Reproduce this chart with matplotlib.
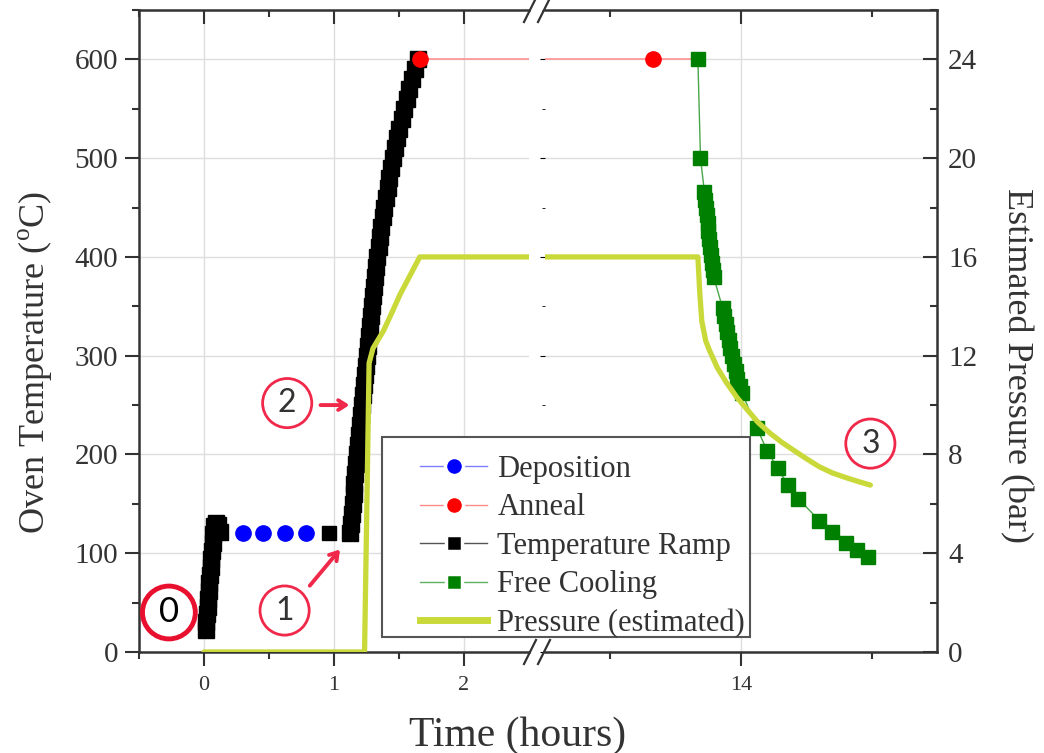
import numpy as np
import matplotlib.pyplot as plt
from matplotlib.lines import Line2D
from matplotlib.patches import Rectangle

plt.rcParams['font.family'] = ['Liberation Serif', 'DejaVu Serif']
plt.rcParams['mathtext.fontset'] = 'custom'
plt.rcParams['mathtext.rm'] = 'Liberation Serif'

# ---- data (time in hours, temperature in C, pressure in bar) ----
ramp_a_x = [0.012, 0.017, 0.022, 0.027, 0.032, 0.037, 0.042, 0.047, 0.052, 0.057, 0.062, 0.067, 0.072, 0.077,
            0.090, 0.105, 0.125]
ramp_a_y = [22, 30, 38, 46, 54, 62, 70, 78, 86, 94, 102, 110, 119, 128,
            131, 129, 121]

ramp_mid_x = [0.96]
ramp_mid_y = [120]

ramp_b_x = [1.123, 1.130, 1.137, 1.143, 1.150, 1.157, 1.163, 1.170, 1.177, 1.185,
            1.192, 1.200, 1.208, 1.215, 1.223, 1.231, 1.238, 1.246, 1.254, 1.262,
            1.269, 1.277, 1.285, 1.292, 1.300, 1.308, 1.315, 1.323, 1.333, 1.343,
            1.354, 1.365, 1.376, 1.388, 1.400, 1.412, 1.425, 1.439, 1.454, 1.469,
            1.485, 1.502, 1.520, 1.538, 1.558, 1.578, 1.598, 1.622, 1.646]
ramp_b_y = [120, 130, 140, 150, 160, 170, 180, 190, 200, 210,
            220, 230, 240, 250, 260, 270, 280, 290, 300, 310,
            320, 330, 340, 350, 360, 370, 380, 390, 400, 410,
            420, 430, 440, 450, 460, 470, 480, 490, 500, 510,
            520, 530, 540, 550, 560, 570, 580, 590, 600]

dep_x = [0.30, 0.455, 0.62, 0.785]
dep_y = [120, 120, 120, 120]

anneal_x = [1.66, 13.33, 13.67]
anneal_y = [600, 600, 600]

cool_x = [13.67, 13.69,
          13.72, 13.726, 13.732, 13.738, 13.744, 13.75, 13.756, 13.762, 13.769, 13.776, 13.783, 13.79,
          13.86, 13.871, 13.882, 13.893, 13.905, 13.917, 13.93, 13.944, 13.958, 13.973, 13.99, 14.01,
          14.12, 14.20, 14.28, 14.36, 14.44, 14.60, 14.70, 14.80, 14.89, 14.97]
cool_y = [600, 500,
          466, 458, 450, 442, 434, 426, 418, 410, 402, 394, 387, 380,
          348, 340, 332, 324, 316, 308, 300, 292, 284, 276, 269, 262,
          227, 204, 186, 169, 155, 133, 121, 110, 103, 96]

press_x = [0.0, 1.235, 1.27, 1.30, 1.38, 1.45, 1.51, 1.58, 1.66,
           13.67, 13.685, 13.70, 13.73, 13.76, 13.82, 13.89, 13.97, 14.05, 14.13,
           14.22, 14.31, 14.40, 14.50, 14.60, 14.70, 14.81, 14.90, 14.99]
press_y = [0.0, 0.0, 11.7, 12.3, 13.0, 13.8, 14.5, 15.2, 16.0,
           16.0, 14.5, 13.4, 12.6, 12.2, 11.5, 10.9, 10.3, 9.8, 9.3,
           8.87, 8.5, 8.18, 7.83, 7.5, 7.25, 7.05, 6.9, 6.76]

PRESS_COL = '#cad93a'
DARK = '#333333'
RED = '#f0284a'
SQ = 11.5

W, H = 1044, 753
fig = plt.figure(figsize=(W / 100, H / 100), dpi=100)

def box(x0, x1, y0, y1):
    return [x0 / W, 1 - y1 / H, (x1 - x0) / W, (y1 - y0) / H]

ax1 = fig.add_axes(box(139, 529, 10, 652))
ax2 = fig.add_axes(box(545, 937, 10, 652))

for ax, xlim in [(ax1, (-0.5, 2.5)), (ax2, (12.5, 15.5))]:
    ax.set_xlim(*xlim)
    ax.set_ylim(0, 650)
    ax.set_yticks(np.arange(0, 601, 100))
    ax.set_yticks(np.arange(50, 651, 100), minor=True)
    ax.grid(which='major', color='#dedede', lw=1.0)
    ax.set_axisbelow(True)
    # temperature series
    ax.plot(dep_x, dep_y, ls='none', marker='o', ms=11, color='blue')
    ax.plot(ramp_a_x, ramp_a_y, color='black', lw=0.8, marker='s', ms=SQ)
    ax.plot(ramp_mid_x, ramp_mid_y, color='black', lw=0.8, marker='s', ms=10.5)
    ax.plot(ramp_b_x, ramp_b_y, color='black', lw=0.8, marker='s', ms=SQ)
    ax.plot(anneal_x, anneal_y, color='#ff8a8a', lw=1.1, marker='o', ms=11, mfc='red', mec='red', markevery=[0, 1])
    ax.plot(cool_x, cool_y, color='#4aa64a', lw=1.0, marker='s', ms=10.5, mfc='#008000', mec='#008000')

ax1.set_xticks([0, 1, 2])
ax1.set_xticks([-0.5, 0.5, 1.5], minor=True)
ax2.set_xticks([14])
ax2.set_xticks([13, 15], minor=True)

ax1.spines['right'].set_visible(False)
ax2.spines['left'].set_visible(False)
for ax in (ax1, ax2):
    for s in ax.spines.values():
        s.set_color(DARK)
        s.set_linewidth(1.8)
    ax.tick_params(axis='x', which='both', bottom=True, top=False, direction='out',
                   width=1.5, color=DARK, labelsize=16, labelcolor=DARK, pad=7)
    ax.tick_params(axis='x', which='major', length=10)
    ax.tick_params(axis='x', which='minor', length=5)
ax1.tick_params(axis='y', which='both', left=True, right=False, direction='out',
                width=1.5, color=DARK, labelsize=21, labelcolor=DARK, pad=5)
ax1.tick_params(axis='y', which='major', length=10)
ax1.tick_params(axis='y', which='minor', length=5)
ax2.tick_params(axis='y', which='both', left=False, right=False, labelleft=False, labelright=False)

# pressure on twin axes
p1 = ax1.twinx()
p2 = ax2.twinx()
for p in (p1, p2):
    p.set_ylim(0, 26)
    p.plot(press_x, press_y, color=PRESS_COL, lw=3.8, solid_capstyle='round', solid_joinstyle='round')
    for s in p.spines.values():
        s.set_visible(False)
    p.xaxis.set_visible(True)
    p.tick_params(axis='x', which='both', top=True, bottom=False, labeltop=False, labelbottom=False,
                  direction='in', width=1.5, color=DARK)
    p.tick_params(axis='x', which='major', length=10)
    p.tick_params(axis='x', which='minor', length=5)
p1.tick_params(axis='y', which='both', left=False, right=False, labelleft=False, labelright=False)
p2.set_yticks(np.arange(0, 25, 4))
p2.set_yticks(np.arange(2, 27, 4), minor=True)
p2.tick_params(axis='y', which='both', left=False, right=True, labelleft=False, labelright=True,
               direction='in', width=1.5, color=DARK, labelsize=21, labelcolor=DARK, pad=8)
p2.tick_params(axis='y', which='major', length=10)
p2.tick_params(axis='y', which='minor', length=5)

# axis break marks
for xc in (530, 544):
    for yc in (10, 652):
        fig.add_artist(Line2D([(xc - 6) / W, (xc + 6) / W], [1 - (yc + 12) / H, 1 - (yc - 12) / H],
                              transform=fig.transFigure, color=DARK, lw=1.6))

# labels
fig.text(35 / W, 1 - 362 / H, r'Oven Temperature ($^{\rm o}$C)', rotation=90,
         ha='center', va='center', fontsize=26, color=DARK)
fig.text(1016 / W, 1 - 365 / H, 'Estimated Pressure (bar)', rotation=270,
         ha='center', va='center', fontsize=26, color=DARK)
fig.text(518 / W, 1 - 746 / H, 'Time (hours)', ha='center', va='baseline', fontsize=30, color=DARK)

# legend: box drawn separately so the handles can sit further in
fig.add_artist(Rectangle((382 / W, 1 - 637 / H), (750 - 382) / W, (637 - 437) / H,
                         transform=fig.transFigure, fc='white', ec='#555555', lw=1.5, zorder=4))
handles = [
    Line2D([], [], color='#7f7fff', lw=1, marker='o', ms=13, mfc='blue', mec='white', mew=2.5),
    Line2D([], [], color='#ff8a8a', lw=1, marker='o', ms=13, mfc='red', mec='white', mew=2.5),
    Line2D([], [], color='#555555', lw=1, marker='s', ms=12, mfc='black', mec='white', mew=2.5),
    Line2D([], [], color='#5fb05f', lw=1, marker='s', ms=12, mfc='#008000', mec='white', mew=2.5),
    Line2D([], [], color=PRESS_COL, lw=5),
]
labels = ['Deposition', 'Anneal', 'Temperature Ramp', 'Free Cooling', 'Pressure (estimated)']
leg = fig.legend(handles, labels, loc='upper left', bbox_to_anchor=(420 / W, 1 - 455 / H),
                 frameon=False, fontsize=22, handlelength=2.2, handletextpad=0.33,
                 labelspacing=0.31, borderpad=0, borderaxespad=0)
leg.set_zorder(5)
for t in leg.get_texts():
    t.set_color(DARK)

# circled step markers
ax1.text(-0.27, 40, '0', ha='center', va='center', fontsize=25, family='Lato', color='black',
         bbox=dict(boxstyle='circle,pad=0.3', fc='none', ec='#e8102e', lw=3.5), clip_on=False)
for xx, yy, s, a in [(0.62, 42, '1', ax1), (0.64, 252, '2', ax1), (14.99, 211, '3', ax2)]:
    a.text(xx, yy, s, ha='center', va='center', fontsize=23, family='Lato', color=DARK,
           bbox=dict(boxstyle='circle,pad=0.3', fc='none', ec=RED, lw=2))
ax1.annotate('', xy=(1.06, 106), xytext=(0.80, 65),
             arrowprops=dict(arrowstyle='->,head_length=0.55,head_width=0.35', color=RED, lw=2.8))
ax1.annotate('', xy=(1.14, 250), xytext=(0.875, 250),
             arrowprops=dict(arrowstyle='->,head_length=0.55,head_width=0.35', color=RED, lw=2.8))

fig.savefig('out.png', dpi=100)
